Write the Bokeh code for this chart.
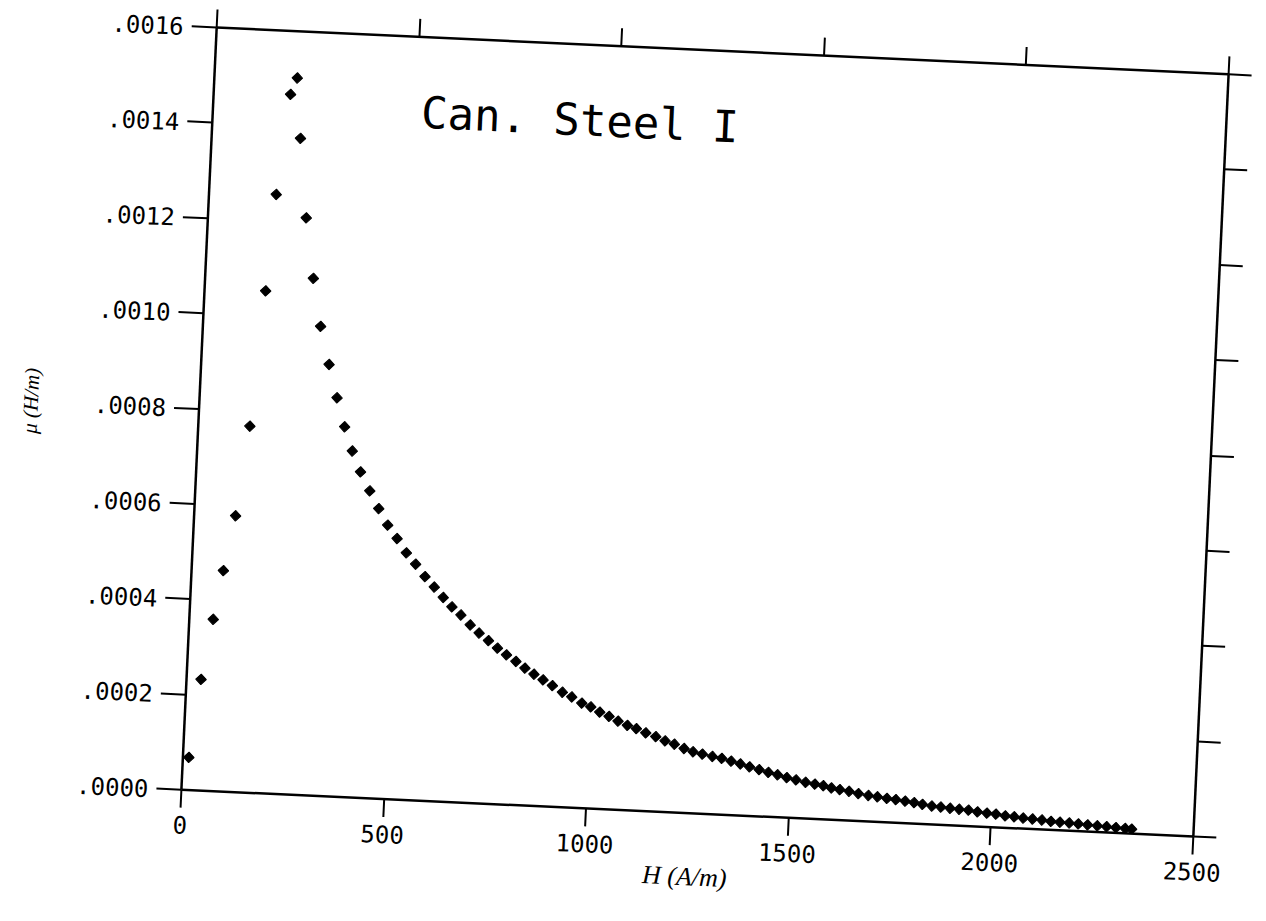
import numpy as np
from bokeh.plotting import figure
from bokeh.models import Range1d, LinearAxis, FixedTicker, Label, CustomJSTickFormatter
from bokeh.embed import file_html
from bokeh.resources import INLINE

# Magnetic field strength H (A/m) and permeability mu (H/m) for Can. Steel I
h_field = [
    14.6, 35.8, 59.0, 78.5, 102.3, 127.3, 150.8, 165.9, 189.8, 204.5,
    219.2, 242.5, 266.9, 290.3, 315.6, 338.9, 361.0, 382.6, 405.3, 430.3,
    454.4, 478.4, 503.0, 527.5, 551.7, 576.2, 600.2, 623.6, 646.0, 669.1,
    693.2, 716.0, 740.0, 763.0, 786.0, 810.0, 833.0, 856.0, 879.0, 902.7,
    928.1, 951.8, 977.2, 999.8, 1022.5, 1045.9, 1068.6, 1092.1, 1114.6, 1138.3,
    1163.4, 1186.8, 1210.1, 1234.5, 1257.0, 1280.2, 1305.2, 1328.5, 1352.0, 1375.0,
    1398.0, 1422.0, 1445.0, 1468.0, 1491.0, 1514.0, 1538.0, 1561.0, 1582.0, 1602.0,
    1623.1, 1646.2, 1669.4, 1694.3, 1716.7, 1740.1, 1762.3, 1785.5, 1807.8, 1828.5,
    1851.9, 1874.2, 1897.2, 1919.7, 1942.7, 1965.0, 1988.4, 2010.7, 2033.9, 2056.2,
    2078.5, 2101.5, 2124.8, 2147.2, 2169.5, 2192.5, 2215.0, 2238.0, 2262.0, 2285.0,
    2308.0, 2331.0, 2347.0,
]
permeability = [
    0.0000684, 0.000233, 0.000360, 0.000463, 0.000579, 0.000768, 0.001053, 0.001256, 0.001467, 0.001502,
    0.001376, 0.001210, 0.001084, 0.000984, 0.000905, 0.000836, 0.000776, 0.000726, 0.000683, 0.000644,
    0.000608, 0.000574, 0.000547, 0.000518, 0.000495, 0.000470, 0.000449, 0.000428, 0.000409, 0.000393,
    0.000373, 0.000357, 0.000342, 0.000327, 0.000314, 0.000301, 0.000288, 0.000276, 0.000265, 0.000254,
    0.000241, 0.000232, 0.000220, 0.000213, 0.000203, 0.000195, 0.000186, 0.000178, 0.000172, 0.000164,
    0.000157, 0.000149, 0.000143, 0.000135, 0.000129, 0.000125, 0.000121, 0.000118, 0.000113, 0.000108,
    0.000103, 0.000098, 0.000093, 0.000089, 0.000084, 0.000080, 0.000076, 0.000073, 0.0000705, 0.0000666,
    0.0000640, 0.0000614, 0.0000575, 0.0000544, 0.0000526, 0.0000500, 0.0000485, 0.0000462, 0.0000438, 0.0000411,
    0.0000385, 0.0000373, 0.0000356, 0.0000344, 0.0000333, 0.0000307, 0.0000289, 0.0000278, 0.0000251, 0.0000240,
    0.0000222, 0.0000211, 0.0000199, 0.0000178, 0.0000170, 0.0000163, 0.0000152, 0.0000142, 0.0000132, 0.0000122,
    0.0000112, 0.0000102, 0.0000096,
]

x_ticks = [0, 500, 1000, 1500, 2000, 2500]
y_ticks = [0.0, 0.0002, 0.0004, 0.0006, 0.0008, 0.0010, 0.0012, 0.0014, 0.0016]

title_text = "Can. Steel I"
x_title = "H (A/m)"
y_title = "\u03bc (H/m)"

p = figure(
    frame_width=1013, frame_height=763,
    min_border_left=198, min_border_right=55, min_border_top=50, min_border_bottom=108,
    x_range=Range1d(0, 2500), y_range=Range1d(0, 0.0016),
    output_backend="svg", toolbar_location=None,
    background_fill_color="white", border_fill_color="white",
)
p.outline_line_color = None
p.xgrid.visible = False
p.ygrid.visible = False

tick_font = "DejaVu Sans Mono"

def style_axis(ax, tick_out):
    ax.axis_line_width = 2.5
    ax.axis_line_color = "black"
    ax.major_tick_line_width = 2
    ax.major_tick_line_color = "black"
    ax.major_tick_out = tick_out
    ax.major_tick_in = 0
    ax.minor_tick_out = 0
    ax.minor_tick_in = 0
    ax.major_label_text_color = "black"
    ax.major_label_text_font = tick_font
    ax.major_label_text_font_style = "normal"

# bottom axis
xa = p.xaxis[0]
xa.ticker = FixedTicker(ticks=x_ticks)
style_axis(xa, 18)
xa.major_label_text_font_size = "24px"
xa.major_label_standoff = 8
xa.axis_label = x_title
xa.axis_label_text_font = "Liberation Serif"
xa.axis_label_text_font_style = "italic"
xa.axis_label_text_font_size = "26px"
xa.axis_label_text_color = "black"
xa.axis_label_standoff = 2

# left axis
ya = p.yaxis[0]
ya.ticker = FixedTicker(ticks=y_ticks)
ya.formatter = CustomJSTickFormatter(code="return tick.toFixed(4).replace(/^0/, '');")
style_axis(ya, 25)
ya.major_label_text_font_size = "24px"
ya.major_label_standoff = 8
ya.axis_label = y_title
ya.axis_label_text_font = "Liberation Serif"
ya.axis_label_text_font_style = "italic"
ya.axis_label_text_font_size = "21px"
ya.axis_label_text_color = "black"
ya.axis_label_standoff = 48

blank = CustomJSTickFormatter(code="return '';")

# top and right frame axes: ticks only
top = LinearAxis(ticker=FixedTicker(ticks=x_ticks), formatter=blank)
style_axis(top, 18)
p.add_layout(top, "above")

right = LinearAxis(ticker=FixedTicker(ticks=y_ticks), formatter=blank)
style_axis(right, 23)
p.add_layout(right, "right")

p.scatter(h_field, permeability, marker="square", size=7.5, angle=np.pi / 4,
          fill_color="black", line_color="black", line_width=1)

p.add_layout(Label(x=514, y=0.001442, text=title_text,
                   text_font=tick_font, text_font_size="44px",
                   text_color="black", text_align="left", text_baseline="alphabetic"))

# slight tilt of the printed sheet
p.styles = {"transform": "rotate(2.65deg)", "transform-origin": "705px 432px"}

open("out.html", "w").write(file_html(p, INLINE))
